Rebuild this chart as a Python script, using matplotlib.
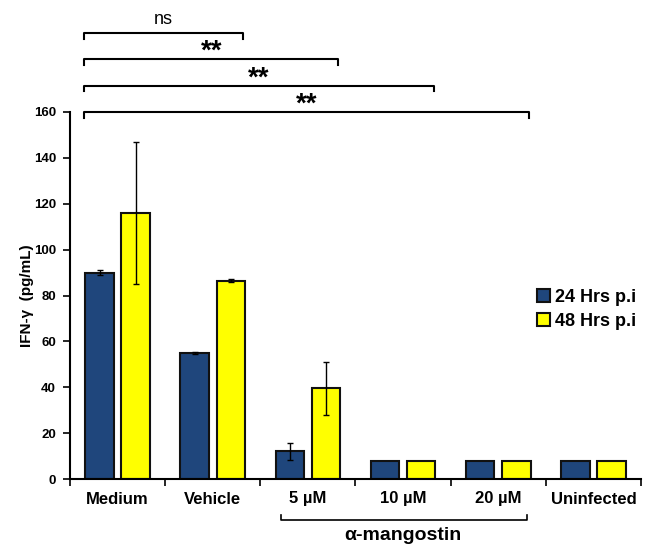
import matplotlib.pyplot as plt
import numpy as np

plt.rcParams['font.family'] = ['Liberation Sans', 'DejaVu Sans']

categories = ['Medium', 'Vehicle', '5 µM', '10 µM', '20 µM', 'Uninfected']
h24 = [90, 55, 12, 8, 8, 8]
h24_err = [1, 0.5, 3.5, 0, 0, 0]
h48 = [116, 86.5, 39.5, 8, 8, 8]
h48_err = [31, 0.7, 11.5, 0, 0, 0]
sig_labels = ['ns', '**', '**', '**']
sig_ends = [1, 2, 3, 4]

fig = plt.figure(figsize=(6.46, 5.47), dpi=100)
ax = fig.add_axes([70 / 646, 1 - 479 / 547, 571 / 646, 367 / 547])

x = np.arange(len(categories))
w = 0.3
ax.bar(x - 0.19, h24, w, color='#1F467C', edgecolor='#111111', linewidth=1.5,
       label='24 Hrs p.i', zorder=2)
ax.bar(x + 0.19, h48, w, color='#FFFF00', edgecolor='#111111', linewidth=1.5,
       label='48 Hrs p.i', zorder=2)
for xs, vals, errs in [(x - 0.19, h24, h24_err), (x + 0.19, h48, h48_err)]:
    for xi, v, e in zip(xs, vals, errs):
        if e > 0:
            ax.errorbar(xi, v, yerr=e, fmt='none', ecolor='black', elinewidth=1,
                        capsize=2, capthick=1, zorder=3)

ax.set_xlim(-0.5, 5.5)
ax.set_ylim(0, 160)
ax.set_yticks(range(0, 161, 20))
ax.set_yticklabels([str(v) for v in range(0, 161, 20)], fontsize=9.5, fontweight='bold')
ax.set_xticks(x)
ax.set_xticklabels(categories, fontsize=12, fontweight='bold')
ax.tick_params(axis='x', length=0, pad=9)
ax.set_xticks(np.arange(-0.5, 6, 1), minor=True)
ax.tick_params(axis='x', which='minor', length=5, width=1.2, direction='out')
ax.tick_params(axis='y', length=5, width=1.2, direction='out', pad=5)
for s in ['top', 'right']:
    ax.spines[s].set_visible(False)
for s in ['left', 'bottom']:
    ax.spines[s].set_linewidth(1.5)
ax.set_ylabel('IFN-γ  (pg/mL)', fontsize=11, fontweight='bold', labelpad=0)

# significance brackets
levels = [194.5, 183, 171.5, 160]
for lab, end, lev in zip(sig_labels, sig_ends, levels):
    x0, x1 = -0.35, end + 0.32
    ax.plot([x0, x0, x1, x1], [lev - 2.5, lev, lev, lev - 2.5], color='black',
            lw=1.5, clip_on=False)
    if lab == 'ns':
        ax.text((x0 + x1) / 2, lev + 2, lab, ha='center', va='bottom', fontsize=13)
    else:
        ax.text((x0 + x1) / 2, lev - 2.5, lab, ha='center', va='bottom', fontsize=20,
                fontweight='bold')

# alpha-mangostin bracket
ax.plot([1.72, 1.72, 4.3, 4.3], [-15.5, -18, -18, -15.5], color='black', lw=1.2,
        clip_on=False)
ax.text(3.0, -21, 'α-mangostin', ha='center', va='top', fontsize=14,
        fontweight='bold')

ax.legend(loc='center left', bbox_to_anchor=(0.79, 0.462), frameon=False,
          prop={'size': 13, 'weight': 'bold'}, handlelength=0.7, handleheight=0.7,
          handletextpad=0.3, labelspacing=0.4)

plt.savefig('out.png', dpi=100)
